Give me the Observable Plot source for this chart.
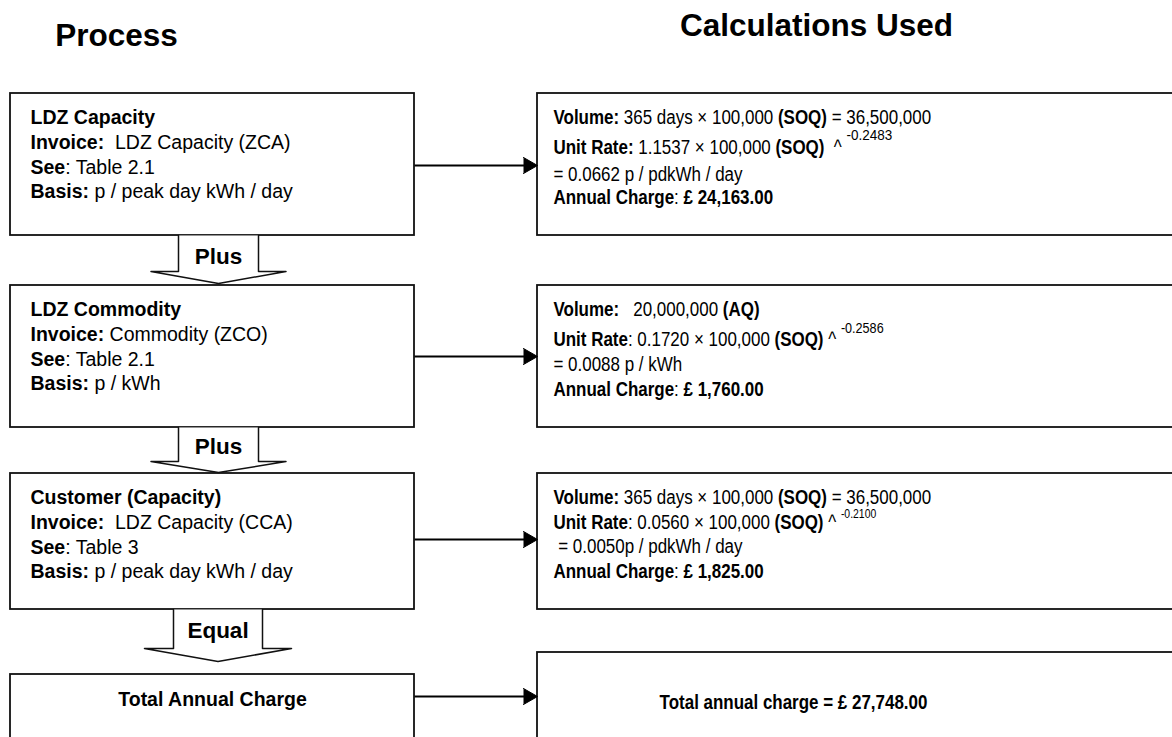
<!DOCTYPE html>
<html>
<head>
<meta charset="utf-8">
<script src="https://cdn.jsdelivr.net/npm/d3@7"></script>
<script src="https://cdn.jsdelivr.net/npm/@observablehq/plot@0.6"></script>
<style>
  html, body { margin: 0; padding: 0; background: #fff; overflow: hidden; }
  svg text { white-space: pre; }
</style>
</head>
<body>
<div id="chart"></div>
<script>
// ---------------- DATA (content only) ----------------
const headers = ["Process", "Calculations Used"];

const processTitles = ["LDZ Capacity", "LDZ Commodity", "Customer (Capacity)"];
const invoices = [" LDZ Capacity (ZCA)", "Commodity (ZCO)", " LDZ Capacity (CCA)"];
const seeRefs = ["Table 2.1", "Table 2.1", "Table 3"];
const bases = ["p / peak day kWh / day", "p / kWh", "p / peak day kWh / day"];

const stepLabels = ["Plus", "Plus", "Equal"];

const volumeExprs = [
  "365 days × 100,000 (SOQ) = 36,500,000",
  "  20,000,000 (AQ)",
  "365 days × 100,000 (SOQ) = 36,500,000"
];
const rateCoefficients = ["1.1537", "0.1720", "0.0560"];
const soqValues = ["100,000", "100,000", "100,000"];
const rateExponents = ["-0.2483", "-0.2586", "-0.2100"];
const rateColonBold = [true, false, false];
const unitRates = ["0.0662 p / pdkWh / day", "0.0088 p / kWh", "0.0050p / pdkWh / day"];
const annualCharges = ["£ 24,163.00", "£ 1,760.00", "£ 1,825.00"];

const totalLabel = "Total Annual Charge";
const totalValue = "£ 27,748.00";

// ---------------- LAYOUT ----------------
const W = 1172, H = 737;
const FONT = "'Liberation Sans', Arial, Helvetica, sans-serif";
const leftX1 = 10, leftX2 = 414;
const rightX1 = 537, rightX2 = 1190;
const leftTops = [93, 285, 473, 674];
const rightTops = [93, 285, 473, 652];
const bottoms = [235, 427, 609, 780];
const connectorYs = [165, 356, 539, 696];
const arrowCx = [218, 218, 217.5];
const stemHalf = [40, 40, 44.5];
const wingHalf = [67.5, 67.5, 73.5];
const wingYs = [271, 461, 648];
const tipYs = [283, 472, 661];
const labelBaselines = [263, 453, 637];
const leftTextX = 30, leftOffsets = [30, 55, 80, 104];
const rightTextX = 553;
const rightOffsets = [[30, 60, 87, 110], [30, 60, 85, 110], [30, 55, 79, 104]];
const rightSize = 19.5, rightSqueeze = 0.87;
const supSizes = [15.5, 14.5, 12];
const supRise = [14, 13, 11];

// ---------------- DERIVED TABLES ----------------
const boxes = [];
leftTops.forEach((t, i) => boxes.push({x1: leftX1, x2: leftX2, y1: t, y2: bottoms[i]}));
rightTops.forEach((t, i) => boxes.push({x1: rightX1, x2: rightX2, y1: t, y2: bottoms[i]}));

const blockPts = [];
stepLabels.forEach((lab, i) => {
  const cx = arrowCx[i], s = stemHalf[i], w = wingHalf[i], top = bottoms[i];
  [[cx - s, top], [cx - s, wingYs[i]], [cx - w, wingYs[i]], [cx, tipYs[i]],
   [cx + w, wingYs[i]], [cx + s, wingYs[i]], [cx + s, top]]
    .forEach(([x, y]) => blockPts.push({id: i, x, y}));
});
const stepText = stepLabels.map((t, i) => ({text: t, x: arrowCx[i], y: labelBaselines[i]}));

const links = connectorYs.map(y => ({x1: leftX2, x2: rightX1 - 12, y}));
const heads = [];
connectorYs.forEach((y, i) => {
  [[rightX1 - 14, y - 8], [rightX1, y], [rightX1 - 14, y + 8]].forEach(([x, yy]) => heads.push({id: i, x, y: yy}));
});

const leftLines = [];
processTitles.forEach((t, i) => {
  const rows = [
    `**${t}**`,
    `**Invoice:** ${invoices[i]}`,
    `**See**: ${seeRefs[i]}`,
    `**Basis:** ${bases[i]}`
  ];
  rows.forEach((r, k) => leftLines.push({text: r, x: leftTextX, y: leftTops[i] + leftOffsets[k]}));
});

const boldParen = s => s.replace(/\((SOQ|AQ)\)/g, "**($1)**");
const rightLines = [];
volumeExprs.forEach((v, i) => {
  const off = rightOffsets[i], top = rightTops[i];
  rightLines.push({text: `**Volume:** ${boldParen(v)}`, x: rightTextX, y: top + off[0]});
  const lab = rateColonBold[i] ? "**Unit Rate:**" : "**Unit Rate**:";
  rightLines.push({text: `${lab} ${rateCoefficients[i]} × ${soqValues[i]} **(SOQ)** ${i === 0 ? " " : ""}^ ^{${rateExponents[i]}}`, x: rightTextX, y: top + off[1]});
  rightLines.push({text: `${i === 2 ? " " : ""}= ${unitRates[i]}`, x: rightTextX, y: top + off[2]});
  rightLines.push({text: `**Annual Charge**: **${annualCharges[i]}**`, x: rightTextX, y: top + off[3]});
});
const totalRight = `Total annual charge = ${totalValue}`;
const squeezed = new Set([...rightLines.map(d => d.text), totalRight]);

// ---------------- PLOT ----------------
const chart = Plot.plot({
  width: W, height: H, margin: 0,
  x: {domain: [0, W], range: [0, W], axis: null},
  y: {domain: [0, H], range: [0, H], axis: null},
  style: {fontFamily: FONT, background: "white", overflow: "hidden"},
  marks: [
    Plot.rect(boxes, {x1: "x1", x2: "x2", y1: "y1", y2: "y2", fill: "white", stroke: "#111", strokeWidth: 1.8}),
    Plot.line(blockPts, {x: "x", y: "y", z: "id", fill: "white", stroke: "#111", strokeWidth: 1.5, curve: "linear"}),
    Plot.link(links, {x1: "x1", x2: "x2", y1: "y", y2: "y", stroke: "#000", strokeWidth: 1.8}),
    Plot.line(heads, {x: "x", y: "y", z: "id", fill: "#000", stroke: "#000", strokeWidth: 1}),
    Plot.text([headers[0]], {x: () => 116, y: () => 45, text: d => d, fontSize: 31.5, fontWeight: "bold", lineAnchor: "bottom", textAnchor: "middle", fill: "#000"}),
    Plot.text([headers[1]], {x: () => 816, y: () => 35, text: d => d, fontSize: 31.5, fontWeight: "bold", lineAnchor: "bottom", textAnchor: "middle", fill: "#000"}),
    Plot.text(stepText, {x: "x", y: "y", text: "text", fontSize: 22.5, fontWeight: "bold", lineAnchor: "bottom", textAnchor: "middle", fill: "#000"}),
    Plot.text(leftLines, {x: "x", y: "y", text: "text", fontSize: 19.5, lineAnchor: "bottom", textAnchor: "start", fill: "#000"}),
    Plot.text(rightLines, {x: "x", y: "y", text: "text", fontSize: rightSize, lineAnchor: "bottom", textAnchor: "start", fill: "#000"}),
    Plot.text([totalLabel], {x: () => (leftX1 + leftX2) / 2, y: () => 705, text: d => d, fontSize: 19.5, fontWeight: "bold", lineAnchor: "bottom", textAnchor: "middle", fill: "#000"}),
    Plot.text([totalRight], {x: () => 793, y: () => 708, text: d => d, fontSize: rightSize, fontWeight: "bold", lineAnchor: "bottom", textAnchor: "middle", fill: "#000"})
  ]
});

// rich text: **bold** and ^{superscript}; horizontal squeeze for the calculation column
const XMLNS = "http://www.w3.org/XML/1998/namespace";
const SVGNS = "http://www.w3.org/2000/svg";
chart.querySelectorAll("text").forEach(textEl => {
  textEl.setAttributeNS(XMLNS, "xml:space", "preserve");
  const s = textEl.textContent;
  if (squeezed.has(s)) {
    const tr = textEl.getAttribute("transform") || "";
    textEl.setAttribute("transform", `${tr} scale(${rightSqueeze},1)`);
  }
  if (!/\*\*|\^\{/.test(s)) return;
  const parts = s.split(/(\*\*[^*]+\*\*|\^\{[^}]+\})/).filter(p => p !== "");
  while (textEl.firstChild) textEl.removeChild(textEl.firstChild);
  for (const p of parts) {
    const t = document.createElementNS(SVGNS, "tspan");
    if (p.startsWith("**")) {
      t.setAttribute("font-weight", "bold");
      t.textContent = p.slice(2, -2);
    } else if (p.startsWith("^{")) {
      const val = p.slice(2, -1);
      const k = Math.max(0, rateExponents.indexOf(val));
      t.setAttribute("font-size", supSizes[k]);
      t.setAttribute("dy", -supRise[k]);
      t.textContent = val;
    } else {
      t.textContent = p;
    }
    textEl.appendChild(t);
  }
});

document.getElementById("chart").appendChild(chart);
</script>
</body>
</html>
